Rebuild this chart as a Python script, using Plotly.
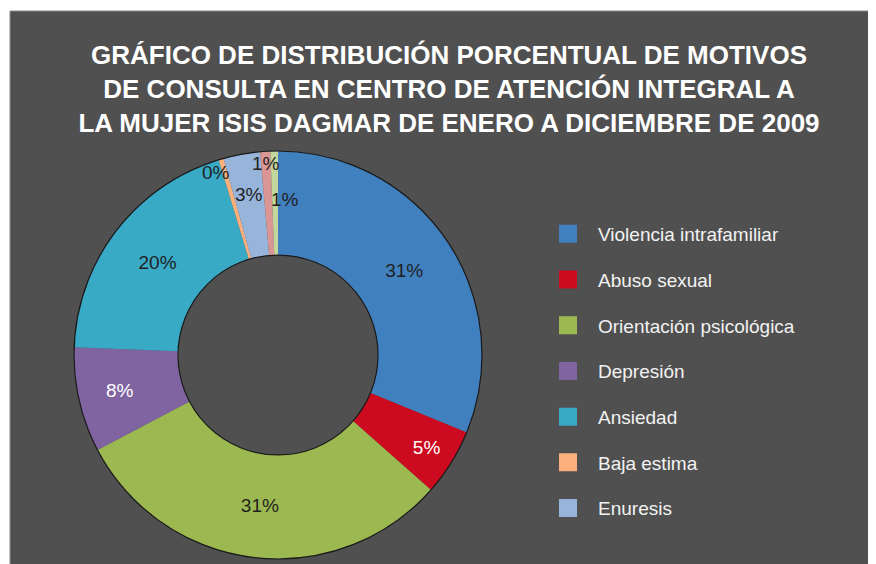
import math
import plotly.graph_objects as go

# ---- data ----
categories = ["Violencia intrafamiliar", "Abuso sexual", "Orientación psicológica",
              "Depresión", "Ansiedad", "Baja estima", "Enuresis",
              "Otro motivo (a)", "Otro motivo (b)"]
values = [31.2, 5.3, 30.8, 8.3, 19.7, 0.4, 2.9, 0.8, 0.6]
legend_categories = categories[:7]

# ---- style ----
colors = ["#4180BE", "#CC0A20", "#9BB950", "#8064A2", "#39AAC6",
          "#FCB07E", "#97B4DA", "#D99694", "#C3D69B"]
text_colors = ["#1f1f1f", "#ffffff", "#1f1f1f", "#ffffff", "#1f1f1f",
               "#1f1f1f", "#1f1f1f", "#1f1f1f", "#1f1f1f"]
# thin slices get their label drawn as an annotation at (radius factor, x nudge)
small_label_style = {5: (0.93, -9), 6: (0.80, 0), 7: (0.94, 0), 8: (0.76, 10)}

W, H = 876, 564
OFF = 8  # page body offset
BG = "#505050"
FONT = "Liberation Sans, Arial, sans-serif"
HOLE = 0.49

cx, cy, rad = 278 - OFF, 355 - OFF, 204
dom_x = [(cx - rad) / W, (cx + rad) / W]
dom_y = [1 - (cy + rad) / H, 1 - (cy - rad) / H]

textpos = ["none" if i in small_label_style else "inside" for i in range(len(values))]

fig = go.Figure()
fig.add_trace(go.Pie(
    labels=categories, values=values, sort=False, direction="clockwise",
    rotation=0, hole=HOLE, domain=dict(x=dom_x, y=dom_y),
    marker=dict(colors=colors, line=dict(width=0)),
    texttemplate="%{percent:.0%}", textposition=textpos,
    insidetextorientation="horizontal",
    insidetextfont=dict(color=text_colors, size=19, family=FONT),
    showlegend=False,
))
# outline of ring (outer and inner edges only)
fig.add_trace(go.Pie(
    labels=["ring"], values=[1], hole=HOLE, domain=dict(x=dom_x, y=dom_y),
    marker=dict(colors=["rgba(0,0,0,0)"], line=dict(color="#1a1a1a", width=1.2)),
    textinfo="none", hoverinfo="skip", showlegend=False, sort=False,
))
# legend entries
for i, name in enumerate(legend_categories):
    fig.add_trace(go.Scatter(
        x=[None], y=[None], mode="markers", name=name, legendgroup=name,
        marker=dict(symbol="square", size=16, color=colors[i],
                    line=dict(color=colors[i], width=2)),
    ))

# labels for thin slices, placed at each slice's mid-angle (computed from values)
total = sum(values)
annotations = []
cum = 0.0
for i, v in enumerate(values):
    if i in small_label_style:
        rf, nudge = small_label_style[i]
        theta = 2 * math.pi * (cum + v / 2) / total
        px = cx + rf * rad * math.sin(theta) + nudge
        py = cy - rf * rad * math.cos(theta)
        annotations.append(dict(
            x=px / W, y=1 - py / H, xref="paper", yref="paper",
            text=f"{round(100 * v / total)}%", showarrow=False,
            font=dict(size=19, color=text_colors[i], family=FONT),
            xanchor="center", yanchor="middle",
        ))
    cum += v

fig.update_layout(
    width=W, height=H, margin=dict(l=0, r=0, t=0, b=0),
    paper_bgcolor="white", plot_bgcolor="rgba(0,0,0,0)",
    font=dict(family=FONT, color="white"),
    uniformtext=dict(minsize=19, mode="show"),
    title=dict(
        text="<b>GRÁFICO DE DISTRIBUCIÓN PORCENTUAL DE MOTIVOS<br>"
             "DE CONSULTA EN CENTRO DE ATENCIÓN INTEGRAL A<br>"
             "LA MUJER ISIS DAGMAR DE ENERO A DICIEMBRE DE 2009</b>",
        x=441 / W, xanchor="center", y=1 - 56 / H, yanchor="top",
        font=dict(size=26, color="white", family=FONT),
    ),
    xaxis=dict(visible=False), yaxis=dict(visible=False),
    legend=dict(
        x=530 / W, xanchor="left", y=1 - 207 / H, yanchor="top",
        font=dict(size=19, color="#f2f2f2", family=FONT),
        itemwidth=50, tracegroupgap=18, bgcolor="rgba(0,0,0,0)",
    ),
    annotations=annotations,
    shapes=[dict(type="rect", xref="paper", yref="paper", layer="below",
                 x0=(10 - OFF) / W, x1=1.02, y0=-0.02, y1=1 - (11 - OFF) / H,
                 fillcolor=BG, line=dict(color="#8a8a8a", width=1))],
)

fig.write_html("out.html")
